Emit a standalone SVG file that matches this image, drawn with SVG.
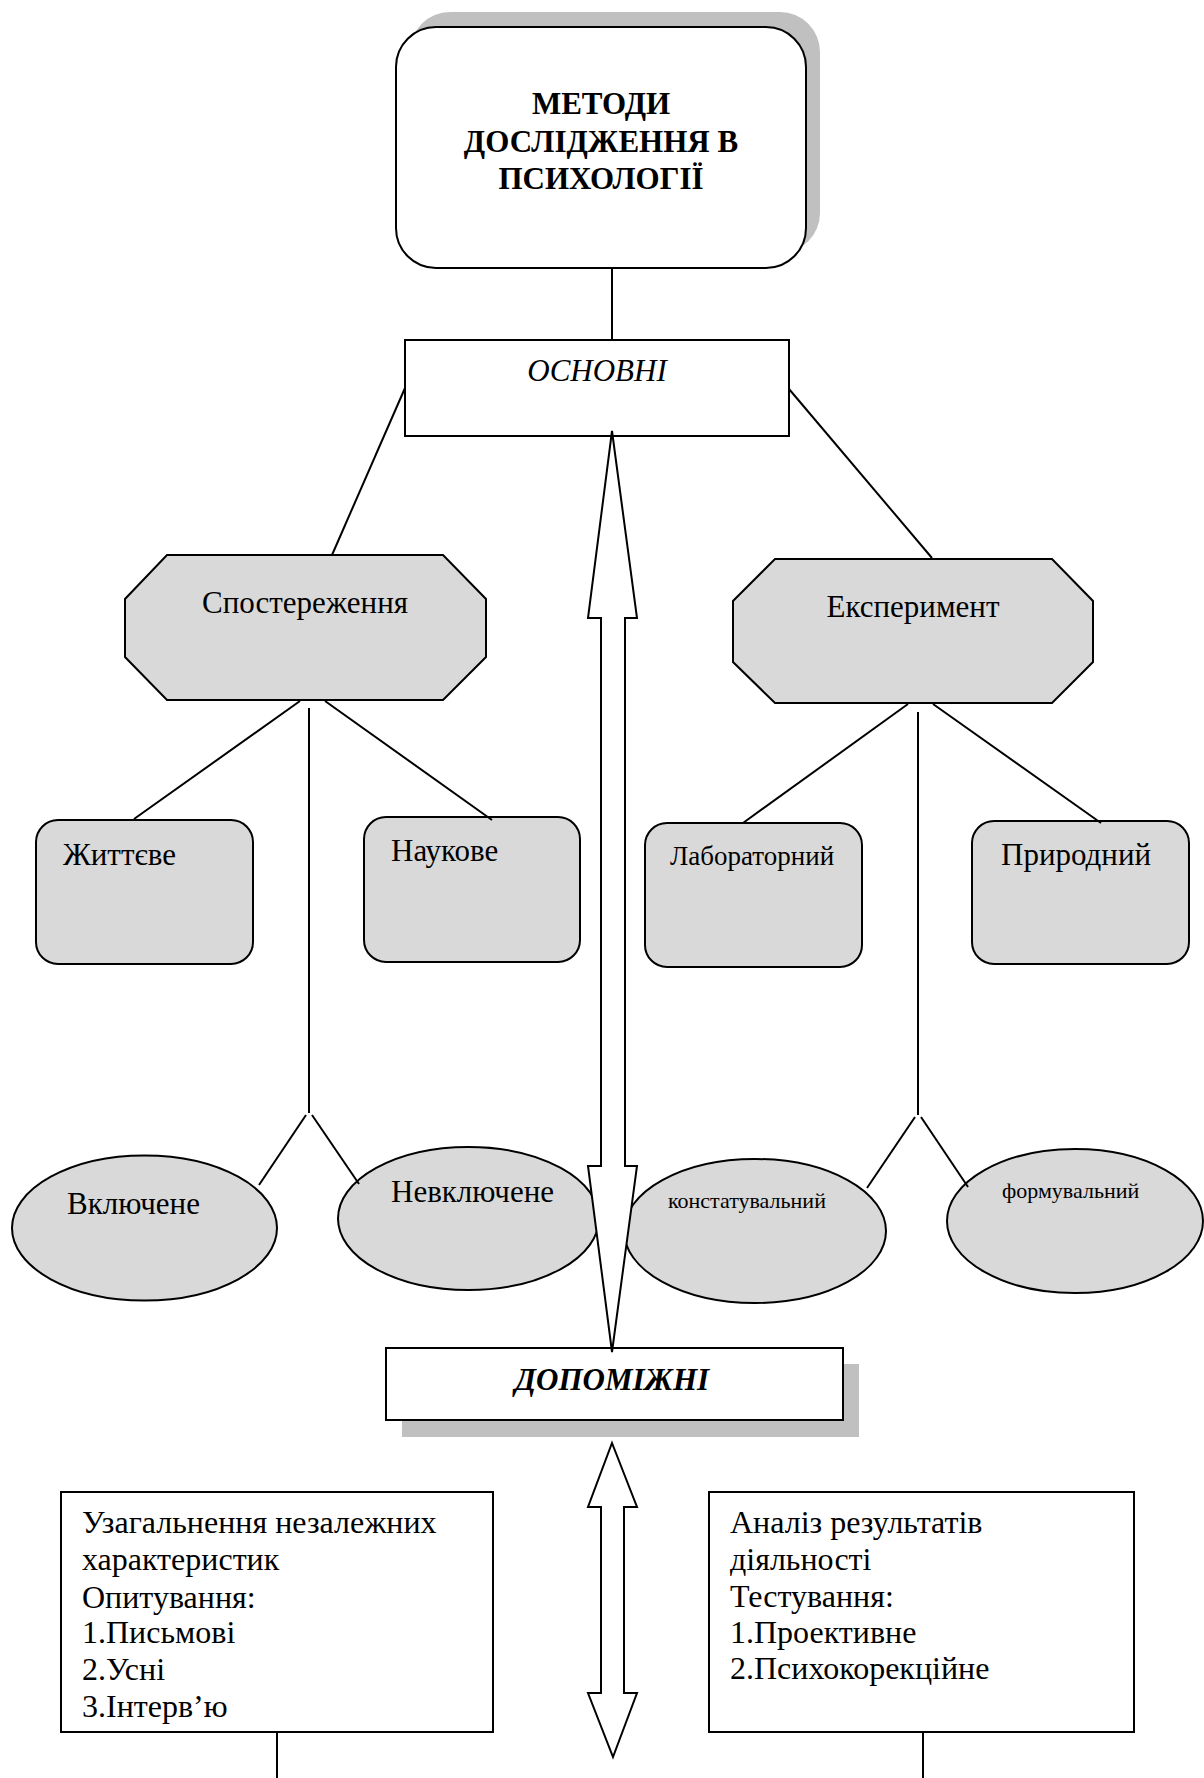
<svg xmlns="http://www.w3.org/2000/svg" width="1204" height="1778" viewBox="0 0 1204 1778">
<defs>
<style>
.s{stroke:#000;stroke-width:2;fill:none}
.g{fill:#d9d9d9;stroke:#000;stroke-width:2}
.w{fill:#fff;stroke:#000;stroke-width:2}
.sh{fill:#c0c0c0}
.t{font-family:"Liberation Serif","Times New Roman",serif;font-size:31px;fill:#000}
.tb{font-weight:bold;font-size:31px}
.ti{font-style:italic}
.sm{font-size:22px}
.md{font-size:27px}
.bt{font-size:32px}
</style>
</defs>
<rect width="1204" height="1778" fill="#fff"/>
<g id="title">
<rect class="sh" x="410" y="12" width="410" height="241" rx="40"/>
<rect class="w" x="396" y="27" width="410" height="241" rx="40"/>
<text class="t tb" text-anchor="middle" x="601" y="114">МЕТОДИ</text>
<text class="t tb" text-anchor="middle" x="601" y="152">ДОСЛІДЖЕННЯ В</text>
<text class="t tb" text-anchor="middle" x="601" y="189">ПСИХОЛОГІЇ</text>
</g>
<g id="osnovni">
<rect class="w" x="405" y="340" width="384" height="96"/>
<text class="t ti" text-anchor="middle" x="597" y="381">ОСНОВНІ</text>
</g>
<g id="sposterezhennia">
<polygon class="g" points="167,555 443,555 486,599 486,657 443,700 167,700 125,657 125,599"/>
<text class="t" text-anchor="middle" x="305" y="613">Спостереження</text>
</g>
<g id="eksperyment">
<polygon class="g" points="775,559 1052,559 1093,601 1093,662 1052,703 775,703 733,662 733,601"/>
<text class="t" text-anchor="middle" x="913" y="617">Експеримент</text>
</g>
<g id="zhyttieve">
<rect class="g" x="36" y="820" width="217" height="144" rx="22"/>
<text class="t" x="63" y="865">Життєве</text>
</g>
<g id="naukove">
<rect class="g" x="364" y="817" width="216" height="145" rx="22"/>
<text class="t" x="391" y="861">Наукове</text>
</g>
<g id="laboratornyi">
<rect class="g" x="645" y="823" width="217" height="144" rx="22"/>
<text class="t md" x="670" y="865">Лабораторний</text>
</g>
<g id="pryrodnyi">
<rect class="g" x="972" y="821" width="217" height="143" rx="22"/>
<text class="t" x="1001" y="865">Природний</text>
</g>
<g id="vkliuchene">
<ellipse class="g" cx="144.5" cy="1228" rx="132.5" ry="72.5"/>
<text class="t" x="67" y="1214">Включене</text>
</g>
<g id="nevkliuchene">
<ellipse class="g" cx="468.5" cy="1218.5" rx="130.5" ry="71.5"/>
<text class="t" x="391" y="1202">Невключене</text>
</g>
<g id="konstatuvalnyi">
<ellipse class="g" cx="755" cy="1231" rx="131" ry="72"/>
<text class="t sm" x="668" y="1208">констатувальний</text>
</g>
<g id="formuvalnyi">
<ellipse class="g" cx="1075" cy="1221" rx="128" ry="72"/>
<text class="t sm" x="1002" y="1198">формувальний</text>
</g>
<g id="dopomizhni">
<rect class="sh" x="402" y="1364" width="457" height="73"/>
<rect class="w" x="386" y="1348" width="457" height="72"/>
<text class="t tb ti" text-anchor="middle" x="612" y="1390">ДОПОМІЖНІ</text>
</g>
<g id="box-left">
<rect class="w" x="61" y="1492" width="432" height="240"/>
<text class="t bt" x="82" y="1533">Узагальнення незалежних</text>
<text class="t bt" x="82" y="1570">характеристик</text>
<text class="t bt" x="82" y="1608">Опитування:</text>
<text class="t bt" x="82" y="1643">1.Письмові</text>
<text class="t bt" x="82" y="1680">2.Усні</text>
<text class="t bt" x="82" y="1717">3.Інтерв’ю</text>
</g>
<g id="box-right">
<rect class="w" x="709" y="1492" width="425" height="240"/>
<text class="t bt" x="730" y="1533">Аналіз результатів</text>
<text class="t bt" x="730" y="1570">діяльності</text>
<text class="t bt" x="730" y="1607">Тестування:</text>
<text class="t bt" x="730" y="1643">1.Проективне</text>
<text class="t bt" x="730" y="1679">2.Психокорекційне</text>
</g>
<g id="connectors">
<line class="s" x1="612" y1="268" x2="612" y2="340"/>
<line class="s" x1="405" y1="388" x2="332" y2="555"/>
<line class="s" x1="789" y1="389" x2="932" y2="558"/>
<line class="s" x1="300" y1="701" x2="134" y2="819"/>
<line class="s" x1="325" y1="701" x2="492" y2="820"/>
<line class="s" x1="309" y1="708" x2="309" y2="1113"/>
<line class="s" x1="306" y1="1115" x2="259" y2="1185"/>
<line class="s" x1="312" y1="1115" x2="359" y2="1184"/>
<line class="s" x1="908" y1="704" x2="743" y2="823"/>
<line class="s" x1="933" y1="704" x2="1101" y2="823"/>
<line class="s" x1="918" y1="712" x2="918" y2="1115"/>
<line class="s" x1="915" y1="1117" x2="867" y2="1188"/>
<line class="s" x1="921" y1="1117" x2="968" y2="1187"/>
<polygon class="w" points="612,431 637,618 625,618 625,1166 637,1166 612,1352 588,1166 601,1166 601,618 588,618"/>
<polygon class="w" points="612,1443 637,1507 624,1507 624,1693 637,1693 613,1757 588,1693 601,1693 601,1507 588,1507"/>
<line class="s" x1="277" y1="1732" x2="277" y2="1778"/>
<line class="s" x1="923" y1="1732" x2="923" y2="1778"/>
</g>
</svg>
